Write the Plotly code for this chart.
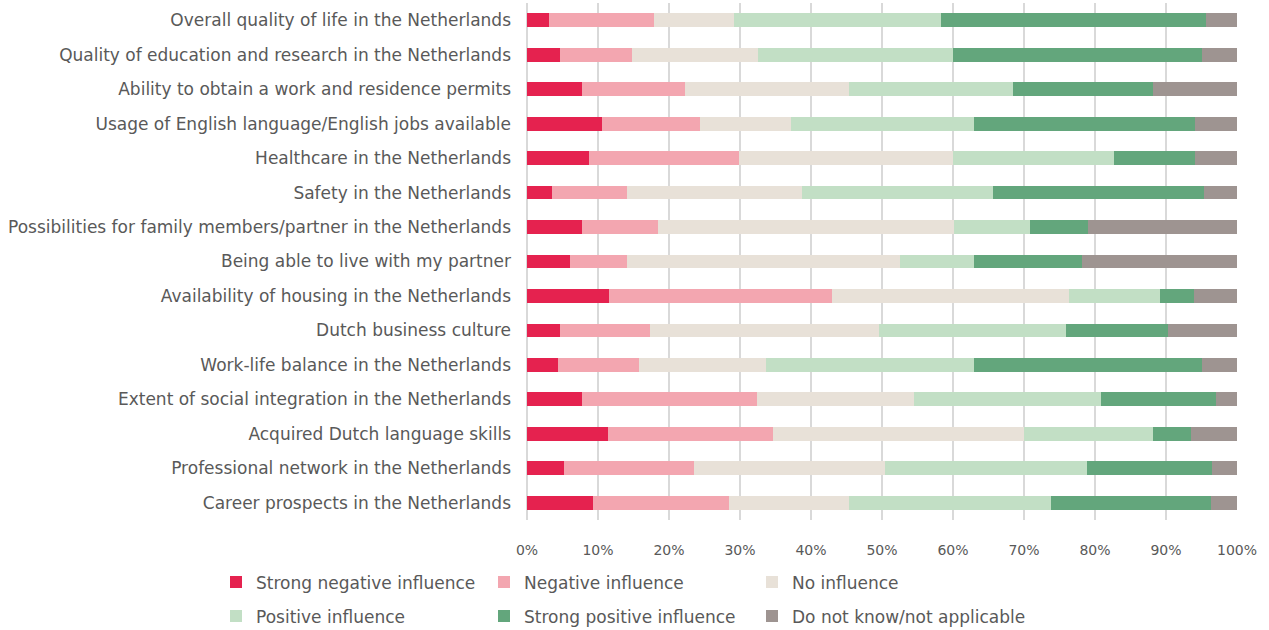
import plotly.graph_objects as go

categories = [
    "Overall quality of life in the Netherlands",
    "Quality of education and research in the Netherlands",
    "Ability to obtain a work and residence permits",
    "Usage of English language/English jobs available",
    "Healthcare in the Netherlands",
    "Safety in the Netherlands",
    "Possibilities for family members/partner in the Netherlands",
    "Being able to live with my partner",
    "Availability of housing in the Netherlands",
    "Dutch business culture",
    "Work-life balance in the Netherlands",
    "Extent of social integration in the Netherlands",
    "Acquired Dutch language skills",
    "Professional network in the Netherlands",
    "Career prospects in the Netherlands",
]

strong_negative = [3.1, 4.7, 7.8, 10.5, 8.8, 3.5, 7.8, 6.1, 11.6, 4.6, 4.4, 7.8, 11.4, 5.2, 9.3]
negative = [14.8, 10.1, 14.4, 13.8, 21.0, 10.6, 10.6, 8.0, 31.4, 12.7, 11.4, 24.6, 23.3, 18.3, 19.1]
no_influence = [11.3, 17.8, 23.2, 12.9, 30.2, 24.6, 41.7, 38.5, 33.3, 32.3, 17.8, 22.1, 35.3, 26.9, 17.0]
positive = [29.1, 27.4, 23.0, 25.7, 22.7, 27.0, 10.7, 10.3, 12.9, 26.3, 29.3, 26.3, 18.2, 28.5, 28.4]
strong_positive = [37.3, 35.1, 19.8, 31.2, 11.4, 29.7, 8.2, 15.3, 4.7, 14.4, 32.2, 16.3, 5.3, 17.6, 22.5]
dont_know = [4.4, 4.9, 11.8, 5.9, 5.9, 4.6, 21.0, 21.8, 6.1, 9.7, 4.9, 2.9, 6.5, 3.5, 3.7]

series_names = [
    "Strong negative influence",
    "Negative influence",
    "No influence",
    "Positive influence",
    "Strong positive influence",
    "Do not know/not applicable",
]
series_values = [strong_negative, negative, no_influence, positive, strong_positive, dont_know]
colors = ["#E5224F", "#F3A6B0", "#E8E1D8", "#C2DFC5", "#63A67C", "#9E9491"]
legend_ids = ["legend", "legend", "legend", "legend2", "legend2", "legend3"]

FONT = "DejaVu Sans"
TXT = "#595959"

fig = go.Figure()
for name, vals, col, lg in zip(series_names, series_values, colors, legend_ids):
    fig.add_trace(go.Bar(
        y=categories, x=vals, name=name, orientation="h",
        marker=dict(color=col, line=dict(width=0)),
        legend=lg, hoverinfo="x+y+name",
    ))

L, R = 5, 32
W = 1269
gw = W - L - R
legend_common = dict(
    orientation="h", xanchor="left", yanchor="middle",
    traceorder="normal",
    font=dict(family=FONT, size=17, color=TXT),
    entrywidthmode="pixels",
    bgcolor="rgba(0,0,0,0)", itemclick=False,
)
lx = (216 - L) / gw
col_step = 268 / gw

fig.update_layout(
    width=W, height=630,
    margin=dict(l=L, r=R, t=3, b=110, autoexpand=False),
    barmode="stack",
    bargap=0.6,
    plot_bgcolor="white",
    paper_bgcolor="white",
    font=dict(family=FONT, size=17, color=TXT),
    xaxis=dict(
        domain=[(527 - L) / gw, 1],
        range=[0, 100],
        dtick=10,
        ticksuffix="%",
        showgrid=True, gridcolor="#D9D9D9", gridwidth=1.5,
        zeroline=True, zerolinecolor="#D9D9D9", zerolinewidth=1.5,
        showline=False,
        tickfont=dict(family=FONT, size=14, color=TXT),
        ticklabelstandoff=20,
        automargin=False,
        fixedrange=True,
    ),
    yaxis=dict(
        categoryorder="array",
        categoryarray=categories[::-1],
        showgrid=False, zeroline=False, showline=False,
        tickfont=dict(family=FONT, size=17, color=TXT),
        ticklabelstandoff=15,
        automargin=False,
        fixedrange=True,
    ),
    legend=dict(x=lx, y=(520.5 - 583) / 517.5, entrywidth=223, **legend_common),
    legend2=dict(x=lx, y=(520.5 - 617) / 517.5, entrywidth=223, **legend_common),
    legend3=dict(x=lx + 2 * col_step, y=(520.5 - 617) / 517.5, entrywidth=0, **legend_common),
    showlegend=True,
)

fig.write_html("out.html", config={"displayModeBar": False},
               post_script="document.body.style.margin='0';")
